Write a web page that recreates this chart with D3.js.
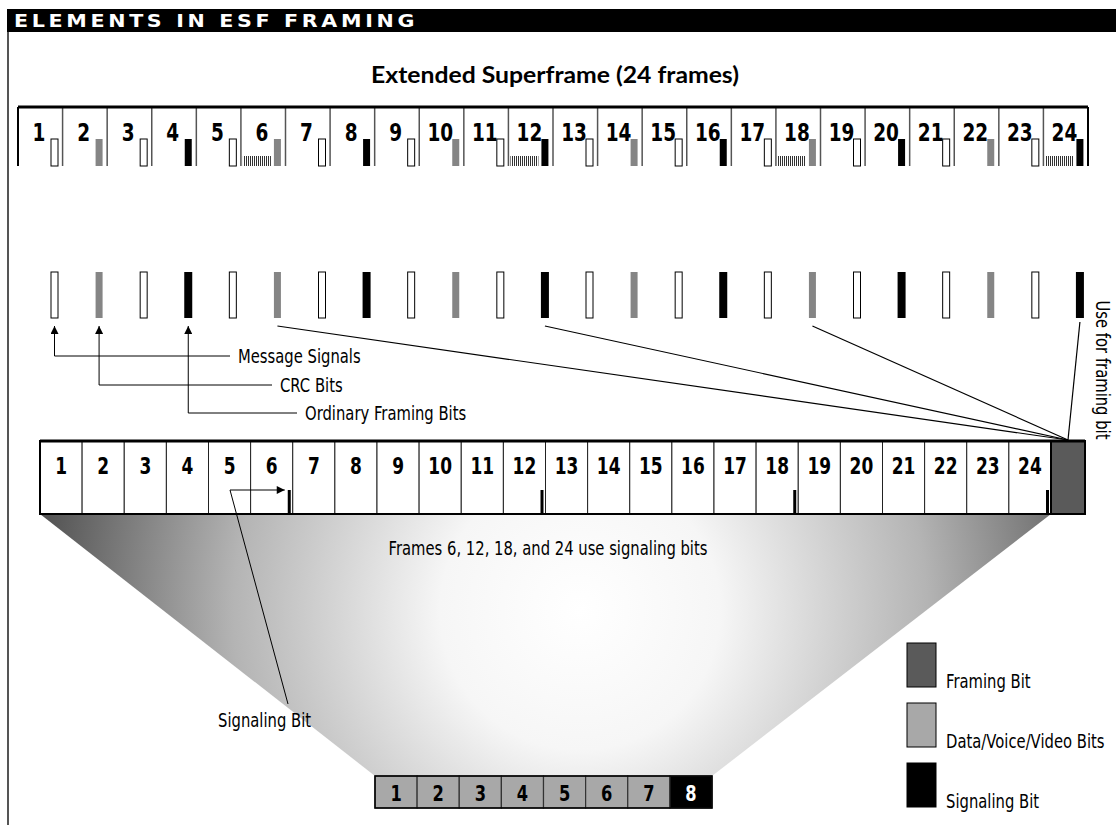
<!DOCTYPE html>
<html>
<head>
<meta charset="utf-8">
<script src="https://cdn.jsdelivr.net/npm/d3@7"></script>
<style>
  body { margin: 0; background: #fff; }
  svg { display: block; }
</style>
</head>
<body>
<div id="chart"></div>
<script>
// frame numbers of the extended superframe
const frames = [1, 2, 3, 4, 5, 6, 7, 8, 9, 10, 11, 12, 13, 14, 15, 16, 17, 18, 19, 20, 21, 22, 23, 24];
// what the framing bit of each frame carries
const bitType = ['msg', 'crc', 'msg', 'fps', 'msg', 'crc', 'msg', 'fps', 'msg', 'crc', 'msg', 'fps',
                 'msg', 'crc', 'msg', 'fps', 'msg', 'crc', 'msg', 'fps', 'msg', 'crc', 'msg', 'fps'];
const sigFrames = [6, 12, 18, 24];
const byteBits = [1, 2, 3, 4, 5, 6, 7, 8];
const byteType = ['data', 'data', 'data', 'data', 'data', 'data', 'data', 'sig'];
const callouts = [
  { label: 'Message Signals', frame: 1 },
  { label: 'CRC Bits', frame: 2 },
  { label: 'Ordinary Framing Bits', frame: 4 }
];
const legendLabels = ['Framing Bit', 'Data/Voice/Video Bits', 'Signaling Bit'];
const legendTypes = ['framing', 'data', 'sig'];

const W = 1116, H = 825;
const FONT = "'DejaVu Sans',sans-serif";
const colors = { msg: '#fff', crc: '#858585', fps: '#000', framing: '#5a5a5a', data: '#a8a8a8', sig: '#000' };

const svg = d3.select('#chart').append('svg')
  .attr('width', W).attr('height', H)
  .style('font-family', FONT);

// condensed text: squeeze horizontally, like the narrow face of the original
const SX = 0.74;
function label(parent, x, y, txt, size, anchor = 'start', weight = 'normal') {
  return parent.append('text')
    .attr('transform', `translate(${x},${y}) scale(${SX},1)`)
    .attr('text-anchor', anchor).attr('font-size', size).attr('font-weight', weight)
    .text(txt);
}

const defs = svg.append('defs');
// hatch for the signaling area in the top row
const hatch = defs.append('pattern').attr('id', 'hatch')
  .attr('patternUnits', 'userSpaceOnUse').attr('width', 2).attr('height', 10);
hatch.append('rect').attr('width', 2).attr('height', 10).attr('fill', '#fff');
hatch.append('rect').attr('width', 1).attr('height', 10).attr('fill', '#333');

defs.append('marker').attr('id', 'arrow')
  .attr('viewBox', '0 0 10 10').attr('refX', 10).attr('refY', 5)
  .attr('markerWidth', 9).attr('markerHeight', 8).attr('markerUnits', 'userSpaceOnUse')
  .attr('orient', 'auto')
  .append('path').attr('d', 'M0,0L10,5L0,10Z').attr('fill', '#000');

const grad = defs.append('radialGradient').attr('id', 'fan')
  .attr('gradientUnits', 'userSpaceOnUse')
  .attr('cx', 580).attr('cy', 610).attr('r', 560);
[[0, '#ffffff'], [0.25, '#f6f6f6'], [0.62, '#b4b4b4'], [1, '#4a4a4a']].forEach(([o, c]) =>
  grad.append('stop').attr('offset', o).attr('stop-color', c));

// header bar and left rule
svg.append('rect').attr('x', 7).attr('y', 9).attr('width', W - 7).attr('height', 23).attr('fill', '#000');
svg.append('text').attr('x', 14).attr('y', 27)
  .attr('fill', '#fff').attr('font-weight', 'bold').attr('font-size', 17)
  .attr('letter-spacing', 3)
  .attr('textLength', 404).attr('lengthAdjust', 'spacingAndGlyphs')
  .text('ELEMENTS IN ESF FRAMING');
svg.append('line').attr('x1', 8).attr('x2', 8).attr('y1', 32).attr('y2', H)
  .attr('stroke', '#555').attr('stroke-width', 2);

svg.append('text').attr('x', 555).attr('y', 83).attr('text-anchor', 'middle')
  .attr('font-family', "Lato,'Open Sans',sans-serif").attr('font-weight', 'bold').attr('font-size', 22)
  .attr('textLength', 368).attr('lengthAdjust', 'spacingAndGlyphs')
  .text('Extended Superframe (24 frames)');

// ---- top row: 24 frames
const xTop = d3.scaleBand().domain(frames).range([18, 1088]);
const top0 = 107, top1 = 166;
const gTop = svg.append('g');
gTop.selectAll('line.div').data(frames.slice(1)).join('line')
  .attr('x1', d => xTop(d)).attr('x2', d => xTop(d))
  .attr('y1', top0).attr('y2', top1).attr('stroke', '#555').attr('stroke-width', 1.5);
gTop.selectAll('rect.hatch').data(sigFrames).join('rect')
  .attr('x', d => xTop(d) + 2).attr('y', top1 - 10)
  .attr('width', 28).attr('height', 10).attr('fill', 'url(#hatch)');
gTop.selectAll('rect.bit').data(frames).join('rect')
  .attr('x', d => xTop(d) + 33).attr('y', 139)
  .attr('width', 7).attr('height', top1 - 139)
  .attr('fill', (d, i) => colors[bitType[i]])
  .attr('stroke', (d, i) => bitType[i] === 'msg' ? '#000' : 'none').attr('stroke-width', 1);
frames.forEach(d => label(gTop, xTop(d) + 21, 141, d, 25, 'middle', 'bold'));
gTop.append('line').attr('x1', 18).attr('x2', 1088).attr('y1', top0).attr('y2', top0)
  .attr('stroke', '#000').attr('stroke-width', 3);
gTop.append('line').attr('x1', 18).attr('x2', 18).attr('y1', top0).attr('y2', top1)
  .attr('stroke', '#000').attr('stroke-width', 2);
gTop.append('line').attr('x1', 1088).attr('x2', 1088).attr('y1', top0).attr('y2', top1)
  .attr('stroke', '#000').attr('stroke-width', 2);

// ---- middle row: the framing bits pulled out
const mid0 = 272, mid1 = 318;
const barX = d => xTop(d) + 36.5;
svg.selectAll('rect.mid').data(frames).join('rect')
  .attr('x', (d, i) => barX(d) - (bitType[i] === 'fps' ? 4 : 3.5)).attr('y', mid0)
  .attr('width', (d, i) => bitType[i] === 'fps' ? 8 : 7).attr('height', mid1 - mid0)
  .attr('fill', (d, i) => colors[bitType[i]])
  .attr('stroke', (d, i) => bitType[i] === 'msg' ? '#000' : 'none');

// callouts with arrows
const calloutY = [356, 385, 413];
const labelX = [238, 280, 305];
callouts.forEach((c, i) => {
  const x = barX(c.frame);
  svg.append('path')
    .attr('d', `M${labelX[i] - 8},${calloutY[i]}H${x}V${mid1 + 8}`)
    .attr('fill', 'none').attr('stroke', '#000').attr('stroke-width', 1)
    .attr('marker-end', 'url(#arrow)');
  label(svg, labelX[i], calloutY[i] + 7, c.label, 20);
});

// lines from the used framing bits to the framing bit box
const conv = [1068, 440];
svg.selectAll('line.conv').data(sigFrames).join('line')
  .attr('x1', d => barX(d)).attr('y1', d => d === 24 ? mid1 + 4 : mid1 + 8)
  .attr('x2', conv[0]).attr('y2', conv[1])
  .attr('stroke', '#000').attr('stroke-width', 1.2);

svg.append('text').attr('transform', `translate(1096,370) rotate(90) scale(${SX},1)`)
  .attr('text-anchor', 'middle').attr('font-size', 20).text('Use for framing bit');

// ---- fan between the frame row and one byte
const xBot = d3.scaleBand().domain(frames).range([40, 1051]);
const xByte = d3.scaleBand().domain(byteBits).range([375, 712]);
const bot0 = 441, bot1 = 514, byte0 = 776, byte1 = 808;
svg.append('path')
  .attr('d', `M${xBot.range()[0]},${bot1}L${xBot.range()[1]},${bot1}L${xByte.range()[1]},${byte0}L${xByte.range()[0]},${byte0}Z`)
  .attr('fill', 'url(#fan)');
label(svg, 548, 555, 'Frames 6, 12, 18, and 24 use signaling bits', 20, 'middle');

// ---- bottom row: 24 frames plus framing bit box
const gBot = svg.append('g');
gBot.selectAll('rect.cell').data(frames).join('rect')
  .attr('x', d => xBot(d)).attr('y', bot0)
  .attr('width', xBot.bandwidth()).attr('height', bot1 - bot0)
  .attr('fill', '#fff').attr('stroke', '#222').attr('stroke-width', 1);
frames.forEach(d => label(gBot, xBot(d) + xBot.bandwidth() / 2, 474, d, 23, 'middle', 'bold'));
gBot.selectAll('rect.sig').data(sigFrames).join('rect')
  .attr('x', d => xBot(d) + xBot.bandwidth() - 5).attr('y', 490)
  .attr('width', 3).attr('height', bot1 - 490).attr('fill', '#000');
gBot.append('rect').attr('x', 1051).attr('y', bot0).attr('width', 34).attr('height', bot1 - bot0)
  .attr('fill', colors.framing).attr('stroke', '#000').attr('stroke-width', 2);
gBot.append('rect').attr('x', 40).attr('y', bot0).attr('width', 1045).attr('height', bot1 - bot0)
  .attr('fill', 'none').attr('stroke', '#000').attr('stroke-width', 2);
gBot.append('line').attr('x1', 40).attr('x2', 1085).attr('y1', bot0).attr('y2', bot0)
  .attr('stroke', '#000').attr('stroke-width', 3);

// signaling bit callout
svg.append('path').attr('d', `M288,704L230,490H${xBot(6) + xBot.bandwidth() - 8}`)
  .attr('fill', 'none').attr('stroke', '#000').attr('stroke-width', 1)
  .attr('marker-end', 'url(#arrow)');
label(svg, 218, 727, 'Signaling Bit', 20);

// ---- one byte
const gByte = svg.append('g');
gByte.selectAll('rect').data(byteBits).join('rect')
  .attr('x', d => xByte(d)).attr('y', byte0)
  .attr('width', xByte.bandwidth()).attr('height', byte1 - byte0)
  .attr('fill', (d, i) => colors[byteType[i]]).attr('stroke', '#333').attr('stroke-width', 1.2);
byteBits.forEach((d, i) => label(gByte, xByte(d) + xByte.bandwidth() / 2, 801, d, 22, 'middle', 'bold')
  .attr('fill', byteType[i] === 'sig' ? '#fff' : '#000'));
gByte.append('rect').attr('x', 375).attr('y', byte0).attr('width', 337).attr('height', byte1 - byte0)
  .attr('fill', 'none').attr('stroke', '#000').attr('stroke-width', 1.5);

// ---- legend
const legY = d3.scalePoint().domain(legendLabels).range([643, 763]);
const leg = svg.append('g');
leg.selectAll('rect').data(legendLabels).join('rect')
  .attr('x', 907).attr('y', d => legY(d)).attr('width', 29).attr('height', 44)
  .attr('fill', (d, i) => colors[legendTypes[i]]).attr('stroke', '#000').attr('stroke-width', 1);
legendLabels.forEach(d => label(leg, 946, legY(d) + 45, d, 20));
</script>
</body>
</html>
